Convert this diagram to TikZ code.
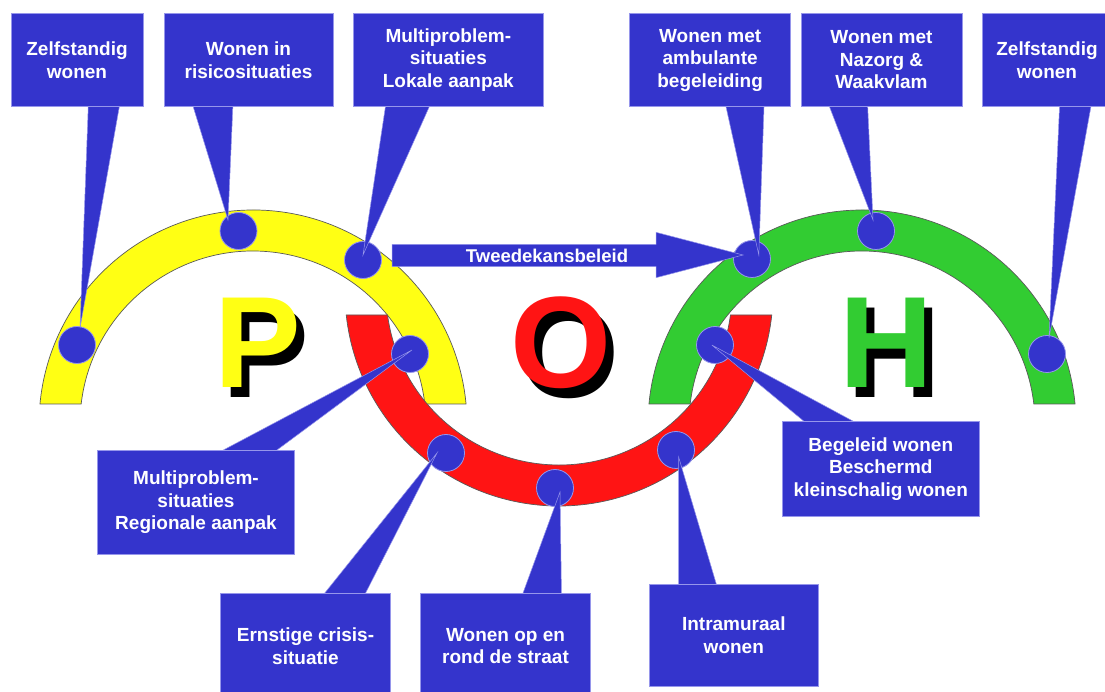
\documentclass[tikz,border=0pt]{standalone}
\usepackage{fontspec}
\setmainfont{Liberation Sans}
\usepackage{tikz}

\definecolor{boxblue}{RGB}{52,52,204}
\definecolor{edgeblue}{RGB}{150,150,235}
\definecolor{pohyellow}{RGB}{255,255,20}
\definecolor{pohred}{RGB}{255,20,20}
\definecolor{pohgreen}{RGB}{50,204,50}

\pgfdeclarelayer{bands}
\pgfdeclarelayer{pointers}
\pgfsetlayers{bands,pointers,main}

% letter with a black shadow behind it
\newcommand{\shadowed}[2]{\rlap{\kern8pt\raisebox{-10pt}{\color{black}#2}}{\color{#1}#2}}

\begin{document}
\begin{tikzpicture}[
		x=1pt, y=1pt,
		box/.style={rectangle, fill=boxblue, draw=edgeblue, line width=0.4pt, text=white, align=center, inner sep=0pt, font=\fontsize{19}{22.5}\selectfont\bfseries},
		dot/.style={circle, fill=boxblue, draw=edgeblue, line width=0.8pt, minimum size=37pt, inner sep=0pt},
		band/.style={draw=black!65, line width=0.7pt},
		letter/.style={anchor=base, inner sep=0pt, font=\fontsize{130}{130}\selectfont\bfseries},
		wedge/.style={fill=boxblue, draw=edgeblue, line width=0.5pt}
	]
  \useasboundingbox (0,0) rectangle (1105,691);
  \clip (0,0) rectangle (1105,691);

  \begin{pgfonlayer}{bands}
  % the three bands
  \path[band, fill=pohyellow] (466.06,287) arc[start angle=5.36, end angle=174.64, radius=214] -- (81.16,287) arc[start angle=173.36, end angle=6.64, radius=173] -- cycle;
  \path[band, fill=pohgreen] (1075.06,287) arc[start angle=5.36, end angle=174.64, radius=214] -- (690.16,287) arc[start angle=173.36, end angle=6.64, radius=173] -- cycle;
  \path[band, fill=pohred] (346.24,376) arc[start angle=186.17, end angle=353.83, radius=214] -- (730.46,376) arc[start angle=352.36, end angle=187.64, radius=173] -- cycle;

  % letters
  \node (P) [letter] at (258,303) {\shadowed{pohyellow}{P}};
  \node (O) [letter] at (561,303) {\shadowed{pohred}{O}};
  \node (H) [letter] at (886,303) {\shadowed{pohgreen}{H}};

  % dots on the bands
  \node (dZelfL) [dot] at (77,346) {};
  \node (dRisico) [dot] at (238.5,460) {};
  \node (dLokaal) [dot] at (363,431) {};
  \node (dRegio) [dot] at (410,337) {};
  \node (dAmbulant) [dot] at (752,432) {};
  \node (dNazorg) [dot] at (876,460) {};
  \node (dZelfR) [dot] at (1047,337) {};
  \node (dBegeleid) [dot] at (715,346) {};
  \node (dCrisis) [dot] at (446,238) {};
  \node (dStraat) [dot] at (555,203) {};
  \node (dIntra) [dot] at (676,241) {};

  % arrow
  \path[wedge] (392,424.3) -- (656,424.3) -- (656,413.3) -- (743,436) -- (656,458.7) -- (656,446.7) -- (392,446.7) -- cycle;
  \node (tweede) [inner sep=0pt, text=white, font=\fontsize{18.5}{20}\selectfont\bfseries] at (547,435.5) {Tweedekansbeleid};
  \end{pgfonlayer}

  % boxes
  \node (zelfL) [box, minimum width=132pt, minimum height=93.4pt] at (77,631) {Zelfstandig\\wonen};
  \node (risico) [box, minimum width=169pt, minimum height=93.4pt] at (248.5,631) {Wonen in\\risicosituaties};
  \node (lokaal) [box, minimum width=189.4pt, minimum height=93.4pt] at (448.3,631) {Multiproblem-\\situaties\\Lokale aanpak};
  \node (ambulant) [box, minimum width=161pt, minimum height=93.4pt] at (710.15,631) {Wonen met\\ambulante\\begeleiding};
  \node (nazorg) [box, minimum width=160.4pt, minimum height=93.4pt] at (881.5,631) {Wonen met\\Nazorg \&\\Waakvlam};
  \node (zelfR) [box, minimum width=130pt, minimum height=93.4pt] at (1047,631) {Zelfstandig\\wonen};
  \node (regio) [box, minimum width=197.3pt, minimum height=103.3pt] at (196,188.7) {Multiproblem-\\situaties\\Regionale aanpak};
  \node (crisis) [box, minimum width=170pt, minimum height=105.4pt] at (305.5,45) {Ernstige crisis-\\situatie};
  \node (straat) [box, minimum width=170pt, minimum height=105.4pt] at (505.5,45) {Wonen op en\\rond de straat};
  \node (intra) [box, minimum width=169.5pt, minimum height=102.7pt] at (733.8,55.7) {Intramuraal\\wonen};
  \node (begeleid) [box, minimum width=197.6pt, minimum height=94.3pt] at (880.8,222.2) {Begeleid wonen\\Beschermd\\kleinschalig wonen};

  % pointers from boxes to dots
  \begin{pgfonlayer}{pointers}
  \path[wedge] ([xshift=11.4pt, yshift=4pt]zelfL.south) -- ([shift={(3,17)}]dZelfL.center) -- ([xshift=43pt, yshift=4pt]zelfL.south) -- cycle;
  \path[wedge] ([xshift=-56.5pt, yshift=4pt]risico.south) -- ([shift={(-10.5,11)}]dRisico.center) -- ([xshift=-15.5pt, yshift=4pt]risico.south) -- cycle;
  \path[wedge] ([xshift=-62.3pt, yshift=4pt]lokaal.south) -- ([shift={(0,5)}]dLokaal.center) -- ([xshift=-17.3pt, yshift=4pt]lokaal.south) -- cycle;
  \path[wedge] ([xshift=15pt, yshift=4pt]ambulant.south) -- ([shift={(6.8,4)}]dAmbulant.center) -- ([xshift=54pt, yshift=4pt]ambulant.south) -- cycle;
  \path[wedge] ([xshift=-53.5pt, yshift=4pt]nazorg.south) -- ([shift={(-3,11)}]dNazorg.center) -- ([xshift=-14pt, yshift=4pt]nazorg.south) -- cycle;
  \path[wedge] ([xshift=12.7pt, yshift=4pt]zelfR.south) -- ([shift={(2,16)}]dZelfR.center) -- ([xshift=44.6pt, yshift=4pt]zelfR.south) -- cycle;
  \path[wedge] ([xshift=19pt, yshift=-4pt]regio.north) -- ([shift={(2,4)}]dRegio.center) -- ([xshift=75pt, yshift=-4pt]regio.north) -- cycle;
  \path[wedge] ([xshift=16pt, yshift=-4pt]crisis.north) -- ([shift={(-9,0)}]dCrisis.center) -- ([xshift=58pt, yshift=-4pt]crisis.north) -- cycle;
  \path[wedge] ([xshift=16pt, yshift=-4pt]straat.north) -- ([shift={(5,-4)}]dStraat.center) -- ([xshift=56pt, yshift=-4pt]straat.north) -- cycle;
  \path[wedge] ([xshift=-55.2pt, yshift=-4pt]intra.north) -- ([shift={(2.6,-7)}]dIntra.center) -- ([xshift=-16.4pt, yshift=-4pt]intra.north) -- cycle;
  \path[wedge] ([xshift=-71.8pt, yshift=-4pt]begeleid.north) -- ([shift={(-3.2,0)}]dBegeleid.center) -- ([xshift=-19.8pt, yshift=-4pt]begeleid.north) -- cycle;
  \end{pgfonlayer}
\end{tikzpicture}
\end{document}
